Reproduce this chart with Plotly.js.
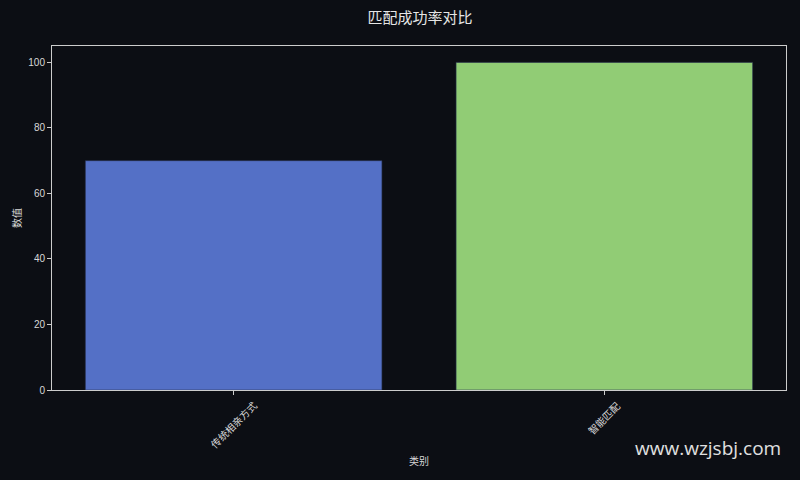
<!DOCTYPE html>
<html>
<head>
<meta charset="utf-8">
<script src="https://cdn.plot.ly/plotly-3.0.1.min.js"></script>
<style>
  html, body { margin: 0; padding: 0; background: #0c0e14; }
  #chart { width: 800px; height: 480px; }
</style>
</head>
<body>
<div id="chart"></div>
<script>
var categories = ['传统相亲方式', '智能匹配'];
var values = [70, 100];
var barColors = ['#5470c6', '#91cc75'];

var font = '"Liberation Sans", "Noto Sans CJK SC", sans-serif';
var textColor = '#d8d8d8';

var trace = {
  x: [0, 1],
  y: values,
  type: 'bar',
  width: 0.8,
  marker: {
    color: barColors,
    line: { color: 'rgba(40,50,80,0.6)', width: 1 }
  },
  hoverinfo: 'none'
};

// rotated category labels, centred under each tick like the reference
var labelNotes = categories.map(function (c, i) {
  return {
    text: c,
    xref: 'x', yref: 'paper',
    x: i, y: 0,
    xanchor: 'center', yanchor: 'top',
    yshift: -7,
    textangle: -45,
    showarrow: false,
    font: { family: font, size: 10, color: textColor }
  };
});

var layout = {
  width: 800,
  height: 480,
  paper_bgcolor: '#0c0e14',
  plot_bgcolor: '#0c0e14',
  margin: { l: 52, r: 14, t: 46, b: 90 },
  showlegend: false,
  font: { family: font, color: textColor, size: 10 },
  title: {
    text: '匹配成功率对比',
    font: { family: font, size: 15, color: '#e6e6e6' },
    x: 0.525, xanchor: 'center',
    y: 0.962, yanchor: 'middle'
  },
  xaxis: {
    range: [-0.49, 1.49],
    tickmode: 'array',
    tickvals: [0, 1],
    ticktext: ['', ''],
    ticks: 'outside',
    ticklen: 4,
    tickcolor: '#cccccc',
    showgrid: false,
    zeroline: false,
    showline: true,
    linecolor: '#cccccc',
    linewidth: 1,
    mirror: true,
    tickfont: { size: 10, color: textColor }
  },
  yaxis: {
    range: [0, 105],
    tickvals: [0, 20, 40, 60, 80, 100],
    ticks: 'outside',
    ticklen: 4,
    tickcolor: '#cccccc',
    showgrid: false,
    zeroline: false,
    showline: true,
    linecolor: '#cccccc',
    linewidth: 1,
    mirror: true,
    tickfont: { size: 10, color: textColor },
    title: { text: '数值', font: { size: 10, color: textColor }, standoff: 4 }
  },
  annotations: labelNotes.concat([{
    text: '类别',
    xref: 'paper', yref: 'paper',
    x: 0.5, y: -0.205,
    xanchor: 'center', yanchor: 'middle',
    showarrow: false,
    font: { family: font, size: 10, color: textColor }
  }, {
    text: 'www.wzjsbj.com',
    xref: 'paper', yref: 'paper',
    x: 0.996, y: -0.17,
    xanchor: 'right', yanchor: 'middle',
    showarrow: false,
    font: { family: '"Open Sans", sans-serif', size: 19, color: '#e0e0e0' }
  }])
};

Plotly.newPlot('chart', [trace], layout, { displayModeBar: false, staticPlot: true });
</script>
</body>
</html>
